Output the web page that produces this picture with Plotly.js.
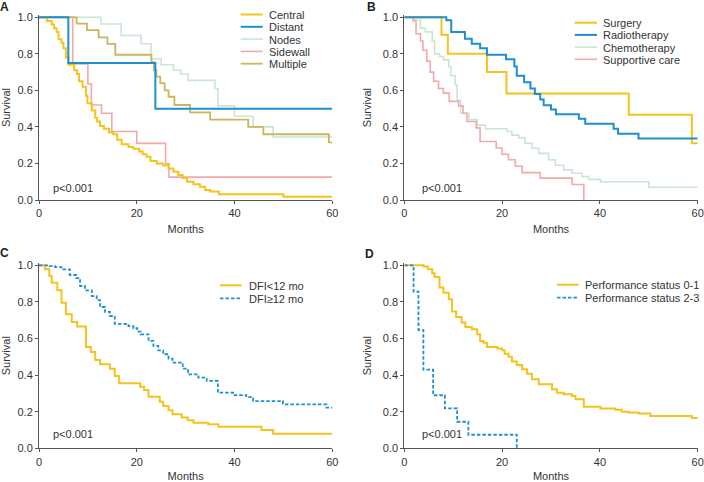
<!DOCTYPE html>
<html>
<head>
<meta charset="utf-8">
<script src="https://cdn.plot.ly/plotly-3.0.1.min.js"></script>
<style>html,body{margin:0;padding:0;background:#fff;}#chart{width:704px;height:482px;}</style>
</head>
<body>
<div id="chart"></div>
<script>
// ---------- Panel A: recurrence site ----------
const centralT = [0,1.6,2.6,3.1,3.6,4.0,4.6,5.0,5.5,6.0,7.2,7.8,8.2,8.9,9.6,9.9,10.8,11.5,11.9,12.5,13.3,14.3,15.2,16.0,16.9,18.3,19.3,20.5,21.2,22.0,22.8,24.1,25.4,26.5,27.5,28.5,29.4,30.3,31.6,32.9,34.0,35.0,36.8,50.0,60];
const centralS = [1,0.98,0.96,0.94,0.92,0.88,0.86,0.83,0.78,0.74,0.71,0.69,0.65,0.62,0.57,0.53,0.49,0.45,0.43,0.405,0.39,0.37,0.36,0.33,0.305,0.29,0.28,0.265,0.25,0.237,0.213,0.2,0.19,0.173,0.155,0.137,0.12,0.10,0.086,0.073,0.055,0.046,0.031,0.018,0.018];
const distantT = [0,6.0,23.8,60];
const distantS = [1,0.75,0.5,0.5];
const nodesT = [0,12.7,16.8,20.9,22.9,25.0,27.5,29.0,30.5,36.0,36.6,40.0,43.8,47.9,60];
const nodesS = [1,0.963,0.9,0.855,0.773,0.74,0.71,0.69,0.655,0.61,0.515,0.458,0.40,0.345,0.345];
const sidewallT = [0,6.9,10.0,10.7,12.8,14.9,20.0,25.9,26.6,60];
const sidewallS = [1,0.745,0.635,0.52,0.475,0.375,0.31,0.20,0.125,0.125];
const multipleT = [0,7.7,9.8,12.2,14.0,15.6,23.0,23.5,24.0,24.8,25.7,26.5,27.7,30.9,35.0,42.8,45.9,59.3,60];
const multipleS = [1,0.965,0.93,0.89,0.855,0.795,0.755,0.71,0.675,0.64,0.60,0.565,0.52,0.48,0.44,0.40,0.36,0.315,0.315];

// ---------- Panel B: treatment ----------
const surgeryT = [0,7.6,8.9,16.9,20.9,45.9,58.8,60];
const surgeryS = [1,0.905,0.80,0.70,0.583,0.467,0.31,0.31];
const radioT = [0,8.6,9.6,12.4,13.8,15.5,16.9,20.8,22.5,23.0,24.5,25.8,26.7,27.8,28.5,30.0,31.0,35.7,37.0,42.8,43.7,47.9,60];
const radioS = [1,0.984,0.92,0.883,0.855,0.83,0.795,0.77,0.73,0.68,0.645,0.61,0.58,0.55,0.518,0.495,0.47,0.445,0.418,0.39,0.363,0.336,0.336];
const chemoT = [0,1.9,3.3,4.3,5.7,6.2,7.2,8.0,9.1,9.5,10.4,10.8,11.5,13.2,14.9,16.6,21.0,22.0,23.4,24.7,26.1,27.5,29.5,30.9,32.6,34.3,36.3,37.7,40.1,50.0,60];
const chemoS = [1,0.985,0.94,0.92,0.87,0.80,0.785,0.767,0.73,0.68,0.63,0.545,0.475,0.44,0.41,0.39,0.375,0.355,0.34,0.31,0.283,0.255,0.22,0.19,0.165,0.146,0.128,0.113,0.10,0.07,0.07];
const supportT = [0,1.8,2.4,3.3,3.8,4.6,5.3,6.0,7.0,8.0,9.2,11.1,12.0,12.8,14.7,15.5,18.8,20.0,21.3,22.7,24.1,27.8,34.3,36.7];
const supportS = [1,0.98,0.91,0.87,0.82,0.76,0.70,0.65,0.61,0.585,0.54,0.515,0.475,0.43,0.395,0.32,0.285,0.25,0.22,0.185,0.15,0.12,0.085,0];

// ---------- Panel C: disease-free interval ----------
const dfiLowT = [0,1.2,2.1,2.6,3.75,4.6,5.5,6.7,7.8,9.6,10.6,11.5,12.5,14.5,15.5,16.4,20.7,21.5,22.4,24.7,25.4,26.5,27.3,29.2,30.4,31.6,34.6,36.7,45.5,47.9,60];
const dfiLowS = [1,0.978,0.942,0.905,0.863,0.796,0.732,0.69,0.665,0.554,0.526,0.483,0.459,0.435,0.395,0.355,0.337,0.319,0.282,0.255,0.231,0.208,0.186,0.168,0.153,0.14,0.131,0.118,0.10,0.08,0.08];
const dfiHighT = [0,2.2,3.3,4.6,6.3,7.6,8.4,9.4,10.8,11.8,12.5,13.5,14.5,15.5,18.3,19.3,20.1,20.8,22.4,23.4,24.4,25.4,26.5,27.3,29.4,30.5,32.6,34.3,36.6,39.7,42.4,43.8,49.9,58.8,60];
const dfiHighS = [1,0.995,0.99,0.978,0.947,0.93,0.887,0.863,0.832,0.81,0.772,0.745,0.723,0.68,0.668,0.656,0.638,0.623,0.587,0.56,0.535,0.514,0.49,0.468,0.435,0.404,0.386,0.368,0.304,0.291,0.28,0.258,0.24,0.222,0.222];

// ---------- Panel D: performance status ----------
const ps01T = [0,3.95,4.8,5.7,6.2,7.2,8.0,9.1,9.75,10.6,11.7,12.5,13.8,14.9,15.5,16.2,16.9,19.0,20.0,20.5,21.3,22.0,23.0,24.1,25.1,26.1,27.5,30.2,31.2,32.6,34.3,35.0,36.7,40.1,43.2,44.5,45.9,47.9,50.3,58.8,60];
const ps01S = [1,0.993,0.978,0.956,0.936,0.878,0.85,0.814,0.747,0.718,0.687,0.663,0.65,0.623,0.587,0.577,0.554,0.546,0.536,0.517,0.5,0.474,0.455,0.432,0.408,0.377,0.35,0.322,0.304,0.295,0.286,0.268,0.227,0.218,0.21,0.2,0.195,0.19,0.176,0.165,0.165];
const ps23T = [0,1.9,2.9,3.9,5.9,8.3,10.8,13.1,23.0];
const ps23S = [1,0.856,0.646,0.43,0.29,0.218,0.145,0.074,0];

// tick labels
const xTicks = [0,20,40,60];
const yTicks = [0,0.2,0.4,0.6,0.8,1.0];

const YEL = '#f6c21c', BLU = '#1f8fcf', GRN = '#c9e6d2', PNK = '#f3a8aa', OLV = '#c9b75c';
const DASH = '3.5px,2px';

function km(t, s, ax, color, width, dash) {
  return {x: t, y: s, xaxis: 'x' + ax, yaxis: 'y' + ax, type: 'scatter', mode: 'lines',
    line: {shape: 'hv', color: color, width: width, dash: dash || 'solid'}, showlegend: false, hoverinfo: 'skip'};
}

const traces = [
  km(nodesT, nodesS, '', GRN, 1.6),
  km(sidewallT, sidewallS, '', PNK, 1.6),
  km(multipleT, multipleS, '', OLV, 1.8),
  km(centralT, centralS, '', YEL, 2),
  km(distantT, distantS, '', BLU, 2),
  km(chemoT, chemoS, '2', GRN, 1.6),
  km(supportT, supportS, '2', PNK, 1.6),
  km(surgeryT, surgeryS, '2', YEL, 2),
  km(radioT, radioS, '2', BLU, 2),
  km(dfiLowT, dfiLowS, '3', YEL, 2),
  km(dfiHighT, dfiHighS, '3', BLU, 1.8, DASH),
  km(ps01T, ps01S, '4', YEL, 2),
  km(ps23T, ps23S, '4', BLU, 1.8, DASH)
];

const W = 704, H = 482;
const px = v => v / W, py = v => 1 - v / H;
const FONT = 'Liberation Sans, Arial, sans-serif';
const TXT = '#333';

function xax(dom, anchor) {
  return {domain: dom, anchor: anchor, range: [0, 60], tickvals: xTicks, ticktext: xTicks.map(String),
    showline: true, linecolor: '#555', linewidth: 1, ticks: 'outside', ticklen: 3, tickcolor: '#555',
    showgrid: false, zeroline: false, tickfont: {size: 11, color: TXT, family: FONT},
    title: {text: 'Months', font: {size: 11, color: TXT, family: FONT}, standoff: 7}};
}
function yax(dom, anchor) {
  return {domain: dom, anchor: anchor, range: [0, 1.012], tickvals: yTicks, ticktext: yTicks.map(v => v.toFixed(1)),
    showline: true, linecolor: '#555', linewidth: 1, ticks: 'outside', ticklen: 3, tickcolor: '#555',
    showgrid: false, zeroline: false, tickfont: {size: 11, color: TXT, family: FONT},
    title: {text: 'Survival', font: {size: 11, color: TXT, family: FONT}, standoff: 8}};
}

const xA = [px(39), px(332.3)], xB = [px(404.3), px(697.7)];
const yTop = [py(200), py(15.1)], yBot = [py(448.3), py(263.1)];

const shapes = [], annotations = [];
function legend(items, x0, x1, xt, y0, dy) {
  items.forEach((it, i) => {
    const y = y0 + dy * i;
    shapes.push({type: 'line', xref: 'paper', yref: 'paper', x0: px(x0), x1: px(x1), y0: py(y), y1: py(y),
      line: {color: it[1], width: it[2], dash: it[3] || 'solid'}});
    annotations.push({xref: 'paper', yref: 'paper', x: px(xt), y: py(y + 0.5), xanchor: 'left', yanchor: 'middle',
      text: it[0], showarrow: false, font: {size: 11, color: TXT, family: FONT}});
  });
}
legend([['Central', YEL, 2], ['Distant', BLU, 2], ['Nodes', GRN, 1.6], ['Sidewall', PNK, 1.6], ['Multiple', OLV, 1.8]], 240.7, 262.7, 267, 14.5, 12.3);
legend([['Surgery', YEL, 2], ['Radiotherapy', BLU, 2], ['Chemotherapy', GRN, 1.6], ['Supportive care', PNK, 1.6]], 574.7, 597, 601, 22.7, 12.2);
legend([['DFI&lt;12 mo', YEL, 2], ['DFI≥12 mo', BLU, 1.8, DASH]], 220, 241.7, 247, 285.3, 13);
legend([['Performance status 0-1', YEL, 2], ['Performance status 2-3', BLU, 1.8, DASH]], 557, 578.7, 582.5, 284.7, 13);

[[50.7, 188.3], [420.3, 188.3], [50.7, 434.3], [420.3, 434.3]].forEach(p => {
  annotations.push({xref: 'paper', yref: 'paper', x: px(p[0]), y: py(p[1]), xanchor: 'left', yanchor: 'middle',
    text: 'p&lt;0.001', showarrow: false, font: {size: 11, color: TXT, family: FONT}});
});
[['A', 4.5, 7], ['B', 371, 7], ['C', 4.5, 253], ['D', 370, 254]].forEach(p => {
  annotations.push({xref: 'paper', yref: 'paper', x: px(p[1]), y: py(p[2]), xanchor: 'center', yanchor: 'middle',
    text: '<b>' + p[0] + '</b>', showarrow: false, font: {size: 12, color: '#222', family: FONT}});
});

const layout = {
  width: W, height: H, margin: {l: 0, r: 0, t: 0, b: 0}, paper_bgcolor: '#fff', plot_bgcolor: '#fff',
  showlegend: false, font: {family: FONT, color: TXT},
  xaxis: xax(xA, 'y'), yaxis: yax(yTop, 'x'),
  xaxis2: xax(xB, 'y2'), yaxis2: yax(yTop, 'x2'),
  xaxis3: xax(xA, 'y3'), yaxis3: yax(yBot, 'x3'),
  xaxis4: xax(xB, 'y4'), yaxis4: yax(yBot, 'x4'),
  shapes: shapes, annotations: annotations
};

Plotly.newPlot('chart', traces, layout, {staticPlot: true, displayModeBar: false});
</script>
</body>
</html>
